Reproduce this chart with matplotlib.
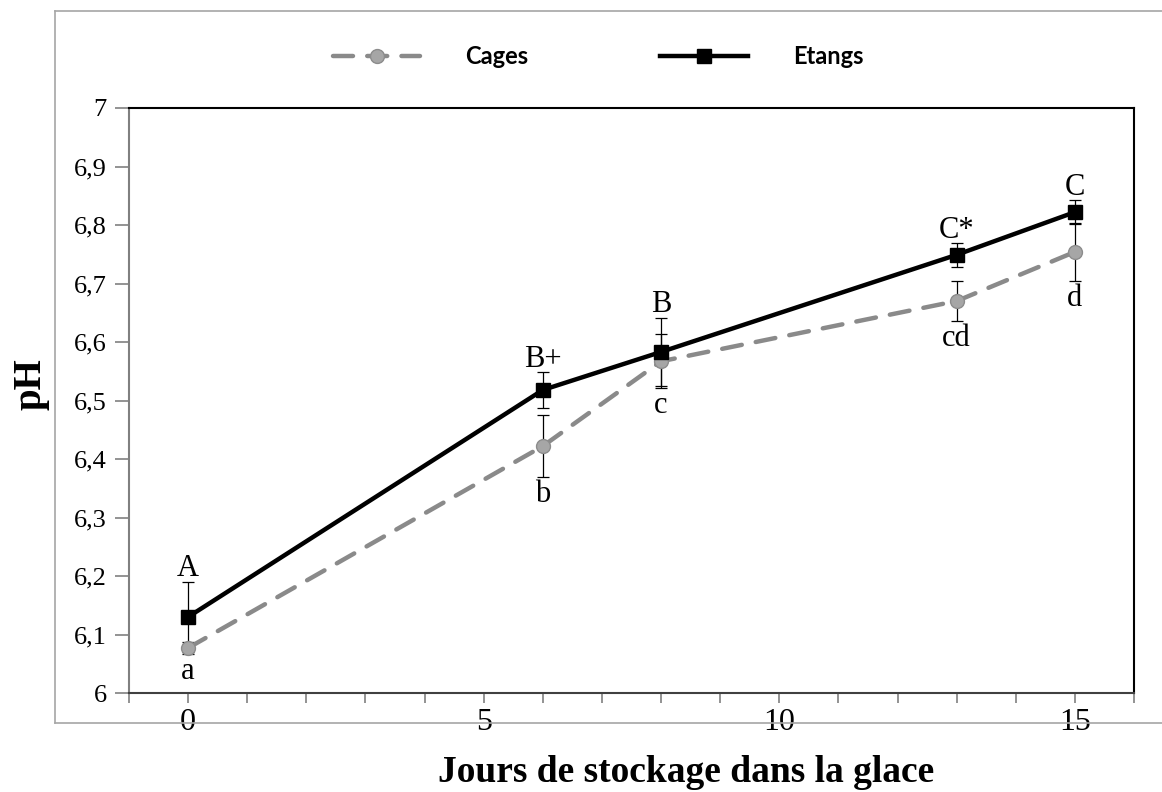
import matplotlib
matplotlib.use('Agg')
import matplotlib.pyplot as plt
from matplotlib.lines import Line2D
from matplotlib.ticker import FixedLocator

days = [0, 6, 8, 13, 15]
cages = [6.077, 6.422, 6.567, 6.670, 6.754]
cages_err = [0.011, 0.053, 0.046, 0.034, 0.050]
etangs = [6.130, 6.518, 6.583, 6.749, 6.822]
etangs_err = [0.060, 0.030, 0.058, 0.020, 0.020]
cages_letters = ['a', 'b', 'c', 'cd', 'd']
etangs_letters = ['A', 'B+', 'B', 'C*', 'C']
y_ticks = [6.0, 6.1, 6.2, 6.3, 6.4, 6.5, 6.6, 6.7, 6.8, 6.9, 7.0]
y_labels = ['6', '6,1', '6,2', '6,3', '6,4', '6,5', '6,6', '6,7', '6,8', '6,9', '7']
x_ticks = [0, 5, 10, 15]
x_labels = ['0', '5', '10', '15']

serif = 'Liberation Serif'
plt.rcParams['font.family'] = [serif, 'DejaVu Serif']
plt.rcParams['font.size'] = 18

W, H = 1162, 792

fig = plt.figure(figsize=(W / 100, H / 100), dpi=100)
ax = fig.add_axes([129 / W, 1 - 693 / H, (1134 - 129) / W, (693 - 108) / H])

# outer chart frame (grey, open on the right)
for xs, ys in [([55, W], [11, 11]), ([55, 55], [11, 723]), ([55, W], [723, 723])]:
    fig.add_artist(Line2D([x / W for x in xs], [1 - y / H for y in ys],
                          color='#a6a6a6', lw=1.2))

# error bars first so markers sit on top
ax.errorbar(days, cages, yerr=cages_err, fmt='none', ecolor='black',
            elinewidth=0.9, capsize=4, capthick=0.9, zorder=2)
ax.errorbar(days, etangs, yerr=etangs_err, fmt='none', ecolor='black',
            elinewidth=0.9, capsize=4, capthick=0.9, zorder=2)

l_cages, = ax.plot(days, cages, color='#8a8a8a', lw=3.2, dashes=(4.5, 3.2),
                   dash_capstyle='round', marker='o', markersize=10,
                   markerfacecolor='#a6a6a6', markeredgecolor='#8c8c8c',
                   markeredgewidth=1, zorder=3)
l_etangs, = ax.plot(days, etangs, color='black', lw=3.2, marker='s',
                    markersize=10, markerfacecolor='black',
                    markeredgecolor='black', zorder=4)

# significance letters
for x, y, e, t in zip(days, etangs, etangs_err, etangs_letters):
    ax.annotate(t, (x, y + e), xytext=(0, 4), textcoords='offset points',
                ha='center', va='baseline', fontsize=22, family=serif)
for x, y, e, t in zip(days, cages, cages_err, cages_letters):
    ax.annotate(t, (x, y - e), xytext=(0, -18), textcoords='offset points',
                ha='center', va='baseline', fontsize=22, family=serif)

ax.set_xlim(-1, 16)
ax.set_ylim(6, 7)
ax.set_xticks(x_ticks, labels=x_labels, fontsize=23, family=serif)
ax.set_yticks(y_ticks, labels=y_labels, fontsize=19, family=serif)
ax.xaxis.set_minor_locator(FixedLocator(list(range(-1, 17))))

ax.tick_params(axis='both', which='both', direction='out', color='#808080',
               width=1.2, length=7)
ax.tick_params(axis='x', which='major', pad=4)
ax.tick_params(axis='y', which='major', pad=6, length=10)

ax.spines['left'].set_color('#808080')
ax.spines['bottom'].set_color('#404040')
for s in ['top', 'right']:
    ax.spines[s].set_color('black')
for s in ax.spines.values():
    s.set_linewidth(1.5)

fig.text(31 / W, 1 - 384 / H, 'pH', rotation=90, ha='center', va='center',
         fontsize=28, fontweight='bold', family=serif)
fig.text(686 / W, 1 - 773 / H, 'Jours de stockage dans la glace', ha='center',
         va='center', fontsize=27, fontweight='bold', family=serif)

fig.legend([l_cages, l_etangs], ['Cages', 'Etangs'], loc='center',
           bbox_to_anchor=(598 / W, 1 - 57 / H), ncol=2, frameon=False,
           handlelength=3.7, handletextpad=1.9, columnspacing=5.6,
           prop={'family': 'Lato', 'weight': 'bold', 'size': 17})

fig.savefig('out.png', dpi=100)
